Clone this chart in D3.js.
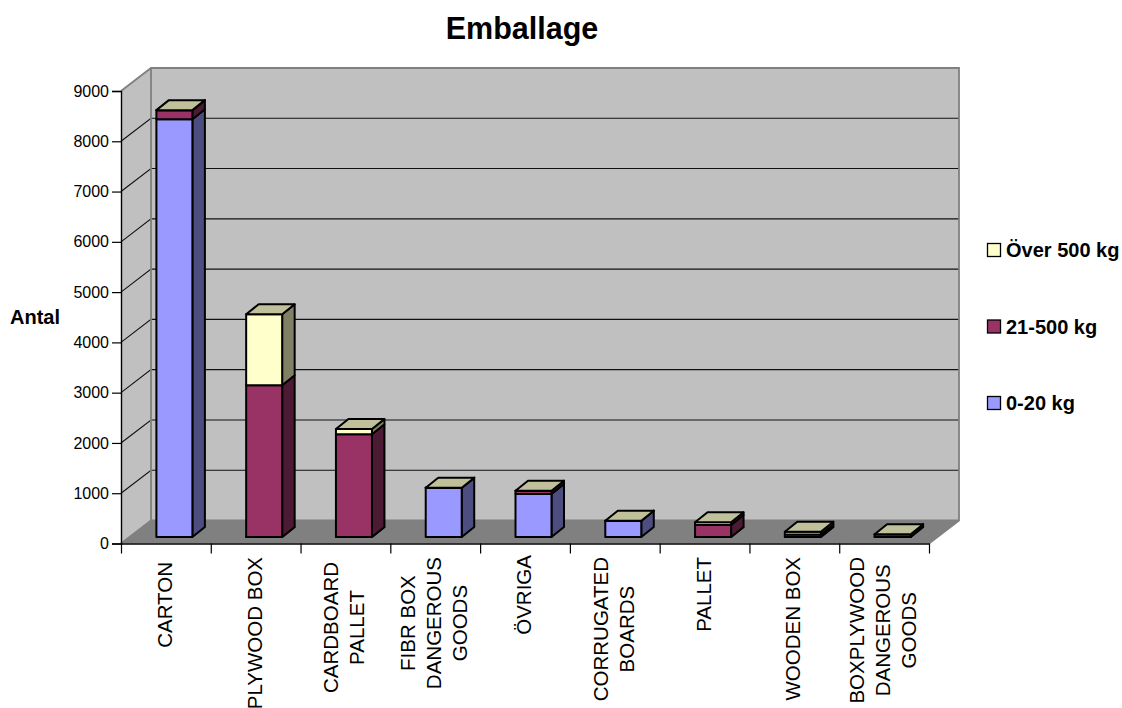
<!DOCTYPE html>
<html>
<head>
<meta charset="utf-8">
<script src="https://cdn.jsdelivr.net/npm/d3@7/dist/d3.min.js"></script>
<style>
html,body{margin:0;padding:0;background:#fff;overflow:hidden}
svg{display:block}
text{font-family:"Liberation Sans",Arial,sans-serif;fill:#000}
</style>
</head>
<body>
<div id="chart"></div>
<script>
// Emballage: stacked 3D-style columns by packaging type and weight class
const categories = ["CARTON","PLYWOOD BOX","CARDBOARD\nPALLET","FIBR BOX\nDANGEROUS\nGOODS","ÖVRIGA","CORRUGATED\nBOARDS","PALLET","WOODEN BOX","BOXPLYWOOD\nDANGEROUS\nGOODS"];
const light  = [8310,    0,    0, 980, 855, 325,   0,  0,  0];
const medium = [ 180, 3017, 2042,   0,  65,   0, 239, 50, 55];
const heavy  = [   0, 1413,  106,   0,   0,   0,  53, 55,  0];
const seriesNames = ["0-20 kg","21-500 kg","Över 500 kg"];
const yTicks = [0,1000,2000,3000,4000,5000,6000,7000,8000,9000];

const seriesValues = [light, medium, heavy];
const frontFill = ["#9999ff","#993366","#ffffcc"];
const sideFill  = ["#4d4d80","#4d1a33","#808066"];
const topFill   = "#c0c09a";

// Layout of the oblique box
const W = 1122, H = 708;
const plot = {left:121, right:929, bottom:543.5, top:91};
const depth = {dx:30, dy:-23};
const barDepth = {dx:12.5, dy:-10};
const barShift = {dx:8.5, dy:-6.5};
const barWidth = 36;
const labelTops = [562,557,562,557,555,557,557,557,557];
const labelLeading = 26;

const svg = d3.select("#chart").append("svg").attr("width",W).attr("height",H);

const x = d3.scaleBand().domain(d3.range(categories.length)).range([plot.left,plot.right]);
const xEdge = d3.scaleLinear().domain([0,categories.length]).range([plot.left,plot.right]);
const y = d3.scaleLinear().domain([0,9000]).range([plot.bottom,plot.top]);
const line = d3.line();
const closed = pts => line(pts)+"Z";

const yMax = y(9000), y0 = y(0);
const backL = plot.left+depth.dx, backR = plot.right+depth.dx;

// Walls and floor
svg.append("path").attr("fill","#c0c0c0")
  .attr("d",closed([[backL,yMax+depth.dy],[backR,yMax+depth.dy],[backR,y0+depth.dy],[backL,y0+depth.dy]]));
svg.append("path").attr("fill","#c0c0c0")
  .attr("d",closed([[plot.left,yMax],[backL,yMax+depth.dy],[backL,y0+depth.dy],[plot.left,y0]]));
svg.append("path").attr("fill","#808080")
  .attr("d",closed([[plot.left,y0],[backL,y0+depth.dy],[backR,y0+depth.dy],[plot.right,y0]]));

// Gridlines run across the side wall and the back wall
const grid = svg.append("g").attr("fill","none").attr("stroke","#111").attr("stroke-width",1.1);
yTicks.slice(1,-1).forEach(t=>{
  grid.append("path").attr("d",line([[plot.left,y(t)],[backL,y(t)+depth.dy],[backR,y(t)+depth.dy]]));
});

// Wall outlines
svg.append("path").attr("fill","none").attr("stroke","#808080").attr("stroke-width",1.8)
  .attr("d",line([[plot.left,yMax],[backL,yMax+depth.dy],[backR,yMax+depth.dy],[backR,y0+depth.dy],[plot.right,y0]]));
svg.append("path").attr("fill","none").attr("stroke","#808080").attr("stroke-width",1.8)
  .attr("d",line([[backL,yMax+depth.dy],[backL,y0+depth.dy],[plot.left,y0]]));
svg.append("path").attr("fill","none").attr("stroke","#808080").attr("stroke-width",1.8)
  .attr("d",line([[backL,y0+depth.dy],[backR,y0+depth.dy]]));

// Columns, stacked from the lightest weight class upward
const bars = svg.append("g").attr("stroke","#000").attr("stroke-width",2).attr("stroke-linejoin","round");
categories.forEach((c,i)=>{
  const xl = x(i)+x.bandwidth()/2-barWidth/2+barShift.dx;
  const xr = xl+barWidth;
  let acc = 0;
  seriesValues.forEach((vals,s)=>{
    const v = vals[i];
    const yb = y(acc)+barShift.dy, yt = y(acc+v)+barShift.dy;
    acc += v;
    bars.append("path").attr("fill",sideFill[s])
      .attr("d",closed([[xr,yb],[xr+barDepth.dx,yb+barDepth.dy],[xr+barDepth.dx,yt+barDepth.dy],[xr,yt]]));
    bars.append("path").attr("fill",frontFill[s])
      .attr("d",closed([[xl,yb],[xr,yb],[xr,yt],[xl,yt]]));
  });
  const yt = y(acc)+barShift.dy;
  bars.append("path").attr("fill",topFill)
    .attr("d",closed([[xl,yt],[xr,yt],[xr+barDepth.dx,yt+barDepth.dy],[xl+barDepth.dx,yt+barDepth.dy]]));
});

// Axes
const yAxis = d3.axisLeft(y).tickValues(yTicks).tickSize(9).tickPadding(3).tickFormat(d3.format("d"));
const yg = svg.append("g").attr("transform",`translate(${plot.left},0)`).call(yAxis);
yg.selectAll("line").attr("stroke","#000").attr("stroke-width",1.2);
yg.select(".domain").attr("stroke","#000").attr("stroke-width",1.4);
yg.selectAll("text").attr("font-size",16).attr("font-family",null).attr("fill","#000");

const xAxis = d3.axisBottom(xEdge).tickValues(d3.range(categories.length+1)).tickSize(10).tickSizeOuter(0).tickFormat("");
const xg = svg.append("g").attr("transform",`translate(0,${plot.bottom})`).call(xAxis);
xg.selectAll("line").attr("stroke","#000").attr("stroke-width",1.2);
xg.select(".domain").attr("stroke","#000").attr("stroke-width",1.4);

// Rotated category labels, wrapped and centred line by line
const probe = svg.append("text").attr("font-size",20.5);
categories.forEach((c,i)=>{
  const lines = c.split("\n");
  const longest = d3.max(lines,l=>probe.text(l).node().getComputedTextLength());
  const cy = labelTops[i]+longest/2;
  const cx = x(i)+x.bandwidth()/2-1.5;
  lines.forEach((l,k)=>{
    const lx = cx+(k-(lines.length-1)/2)*labelLeading;
    svg.append("text").attr("font-size",20.5).attr("text-anchor","middle")
      .attr("dominant-baseline","central")
      .attr("transform",`translate(${lx},${cy}) rotate(-90)`).text(l);
  });
});
probe.remove();

// Titles
svg.append("text").attr("x",522).attr("y",39).attr("text-anchor","middle")
  .attr("font-size",30.5).attr("font-weight","bold").text("Emballage");
svg.append("text").attr("x",10).attr("y",324)
  .attr("font-size",20).attr("font-weight","bold").text("Antal");

// Legend, heaviest class on top
const legendY = d3.scalePoint().domain([2,1,0]).range([250,403]);
seriesNames.forEach((n,s)=>{
  const g = svg.append("g").attr("transform",`translate(987,${legendY(s)})`);
  g.append("rect").attr("x",0.5).attr("y",-6.5).attr("width",13).attr("height",13)
    .attr("fill",frontFill[s]).attr("stroke","#000").attr("stroke-width",1.3);
  g.append("text").attr("x",19).attr("y",7).attr("font-size",20).attr("font-weight","bold").text(n);
});
</script>
</body>
</html>
